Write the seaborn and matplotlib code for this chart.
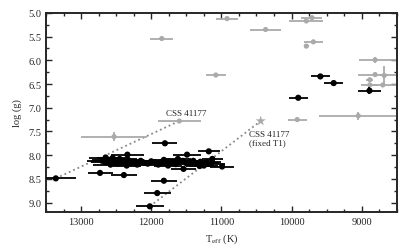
import matplotlib
matplotlib.use('Agg')
import matplotlib.pyplot as plt
import seaborn as sns
import pandas as pd
from matplotlib.ticker import MultipleLocator

# grey comparison objects (Teff, log g, errors)
gray_teff = [11850, 10920, 10370, 9790, 9710, 9690, 9790, 8810, 8810, 8680, 8885, 8885, 8700, 9920, 9050, 11600, 12530, 11080]
gray_logg = [5.54, 5.12, 5.35, 5.17, 5.10, 5.61, 5.70, 5.99, 6.30, 6.32, 6.41, 6.52, 6.52, 7.25, 7.17, 7.28, 7.61, 6.31]
gray_xerr_lo = [165, 150, 220, 240, 150, 140, 40, 600, 310, 60, 50, 120, 200, 135, 585, 310, 475, 140]
gray_xerr_hi = [165, 150, 220, 240, 150, 140, 40, 230, 250, 60, 50, 120, 200, 135, 555, 310, 475, 140]
gray_yerr = [0.02, 0.02, 0.02, 0.02, 0.02, 0.03, 0.05, 0.07, 0.03, 0.21, 0.04, 0.05, 0.03, 0.03, 0.08, 0.03, 0.10, 0.05]

# black sample
black_teff = [9590, 9400, 8890, 9905, 13360, 12730, 12390, 11820, 11915, 12020, 11805, 11180, 11130, 10990, 11540,
              12650, 12600, 12640, 12580, 12520, 12480, 12450, 12400, 12350, 12330, 12300, 12250, 12200, 12150,
              12100, 12050, 12000, 11950, 11900, 11850, 11820, 11780, 11750, 11700, 11650, 11600, 11550, 11500,
              11450, 11400, 11350, 11300, 11250, 11200, 11150, 12700, 12550, 12340, 11490, 11230, 11310, 11440, 11620, 11760]
black_logg = [6.34, 6.48, 6.64, 6.79, 8.49, 8.375, 8.42, 8.54, 8.80, 9.08, 7.75, 7.92, 8.08, 8.24, 8.29,
              8.05, 8.10, 8.15, 8.20, 8.12, 8.18, 8.08, 8.15, 8.22, 8.10, 8.17, 8.14, 8.20, 8.12,
              8.16, 8.18, 8.13, 8.15, 8.20, 8.14, 8.10, 8.17, 8.13, 8.15, 8.19, 8.14, 8.12, 8.17,
              8.15, 8.12, 8.18, 8.14, 8.22, 8.15, 8.18, 8.12, 8.06, 7.99, 7.99, 8.16, 8.23, 8.17, 8.08, 8.22]
black_xerr = [135, 140, 166, 138, 290, 178, 190, 182, 192, 197, 178, 154, 150, 171, 180,
              230, 240, 220, 250, 230, 210, 240, 220, 200, 230, 210, 220, 200, 230,
              210, 220, 200, 230, 210, 220, 200, 230, 210, 220, 200, 210, 220, 200,
              210, 200, 190, 210, 200, 190, 200, 220, 230, 240, 200, 190, 200, 210, 190, 200]
black_yerr = [0.03, 0.03, 0.08, 0.03, 0.03, 0.03, 0.03, 0.03, 0.03, 0.03, 0.03, 0.03, 0.03, 0.03, 0.03] + [0.03] * 44

# CSS 41177 solutions
star_teff = [10440]
star_logg = [7.28]
link1_teff = [13360, 11600]
link1_logg = [8.49, 7.28]
link2_teff = [12020, 10440]
link2_logg = [9.08, 7.28]

sns.set_style('ticks')
plt.rcParams['font.family'] = ['Liberation Serif', 'DejaVu Serif']
plt.rcParams['mathtext.fontset'] = 'stix'
plt.rcParams['font.size'] = 7.5

fig = plt.figure(figsize=(4.07, 2.53), dpi=100)
ax = fig.add_axes([0.113, 0.158, 0.862, 0.787])

gray = '#aaaaaa'
ax.plot(link1_teff, link1_logg, ls=':', color='#888888', lw=1.3, zorder=1)
ax.plot(link2_teff, link2_logg, ls=':', color='#888888', lw=1.3, zorder=1)

ax.errorbar(gray_teff, gray_logg, xerr=[gray_xerr_lo, gray_xerr_hi], yerr=gray_yerr,
            fmt='none', ecolor=gray, elinewidth=1.3, capsize=0, zorder=2)
gdf = pd.DataFrame({'teff': gray_teff, 'logg': gray_logg})
sns.scatterplot(data=gdf, x='teff', y='logg', color=gray, s=14, edgecolor='none', ax=ax, zorder=3)

ax.errorbar(black_teff, black_logg, xerr=black_xerr, yerr=black_yerr,
            fmt='none', ecolor='black', elinewidth=1.3, capsize=0, zorder=4)
bdf = pd.DataFrame({'teff': black_teff, 'logg': black_logg})
sns.scatterplot(data=bdf, x='teff', y='logg', color='black', s=20, edgecolor='none', ax=ax, zorder=5)

sdf = pd.DataFrame({'teff': star_teff, 'logg': star_logg})
sns.scatterplot(data=sdf, x='teff', y='logg', color=gray, marker='*', s=60, edgecolor='none', ax=ax, zorder=5)

ax.text(11790, 7.12, 'CSS 41177', fontsize=6.5, ha='left', va='center')
ax.text(10610, 7.64, 'CSS 41177\n(fixed T1)', fontsize=6.5, ha='left', va='center', linespacing=1.1)

ax.set_xlim(13500, 8500)
ax.set_ylim(9.2, 5.0)
ax.xaxis.set_major_locator(MultipleLocator(1000))
ax.xaxis.set_minor_locator(MultipleLocator(250))
ax.yaxis.set_major_locator(MultipleLocator(0.5))
ax.yaxis.set_minor_locator(MultipleLocator(0.25))
ax.yaxis.set_major_formatter(matplotlib.ticker.FormatStrFormatter('%.1f'))
ax.tick_params(which='both', direction='in', top=True, right=True, width=1.0)
ax.tick_params(which='major', length=4)
ax.tick_params(which='minor', length=2)
for s in ax.spines.values():
    s.set_linewidth(1.4)

ax.set_xlabel(r'T$_{\rm eff}$ (K)')
ax.set_ylabel('log (g)')

plt.savefig('out.png', dpi=100)
